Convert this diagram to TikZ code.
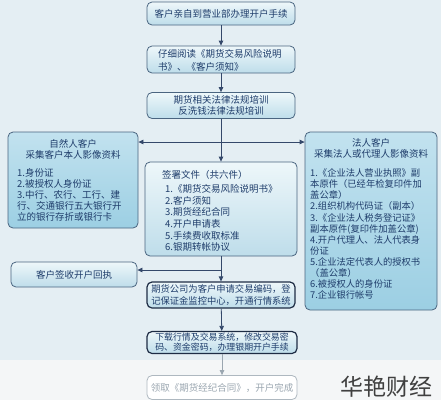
\documentclass[tikz,border=0pt]{standalone}
\usepackage{fontspec}
\setmainfont{Noto Sans CJK SC}
\usetikzlibrary{arrows.meta}
\definecolor{bgc}{HTML}{E4EEF3}
\definecolor{bgw}{HTML}{F4F6F7}
\definecolor{boxtop}{HTML}{EEF7FA}
\definecolor{boxbot}{HTML}{BEDDEA}
\definecolor{sidetop}{HTML}{C2E2EF}
\definecolor{sidebot}{HTML}{9CCFE3}
\definecolor{bordc}{HTML}{4A6580}
\definecolor{darkbord}{HTML}{1E2C44}
\definecolor{txtc}{HTML}{1F3D6B}
\definecolor{linec}{HTML}{34486A}
\definecolor{fadec}{HTML}{9AA6B0}
\begin{document}
\begin{tikzpicture}[x=1pt,y=-1pt,
  box/.style={draw=bordc, rounded corners=5pt, top color=boxtop, bottom color=boxbot, line width=0.8pt, inner sep=0pt},
  sidebox/.style={draw=bordc, rounded corners=5pt, top color=sidetop, bottom color=sidebot, line width=0.8pt, inner sep=0pt},
  strongbox/.style={box, draw=darkbord, line width=1.2pt},
  fadebox/.style={draw=fadec!80, rounded corners=5pt, fill=white, line width=0.8pt, inner sep=0pt},
  txt/.style={text=txtc, inner sep=0pt, font=\fontsize{9.5}{11}\selectfont},
  conn/.style={draw=linec, line width=0.8pt, -{Triangle[length=5pt,width=4.5pt]}},
  dconn/.style={draw=linec, line width=0.8pt, {Triangle[length=5pt,width=4.5pt]}-{Triangle[length=5pt,width=4.5pt]}},
  fconn/.style={draw=fadec, line width=0.8pt, -{Triangle[length=5pt,width=4.5pt]}},
]
\useasboundingbox (0,0) rectangle (441,400);
\fill[bgc] (0,0) rectangle (441,360);
\fill[bgw] (0,360) rectangle (441,400);

% main column
\node[box, minimum width=148pt, minimum height=23pt] (b1) at (221,13.5) {};
\node[txt] (t1) at (b1) {客户亲自到营业部办理开户手续};

\node[box, minimum width=148pt, minimum height=27pt] (b2) at (221,59.5) {};
\node[txt, anchor=north west, align=left, font=\fontsize{9.5}{13}\selectfont] (t2) at (158,49.5) {仔细阅读《期货交易风险说明\\书》、《客户须知》};

\node[box, minimum width=148pt, minimum height=26pt] (b3) at (221,105.5) {};
\node[txt, align=center] (t3) at (b3) {期货相关法律法规培训\\反洗钱法律法规培训};

% left side box
\node[sidebox, minimum width=130pt, minimum height=96pt] (L) at (73,180) {};
\node[txt, anchor=north, align=center, font=\fontsize{9.5}{10.5}\selectfont] (Lt) at (73,139.5) {自然人客户\\采集客户本人影像资料};
\node[txt, anchor=north west, align=left] (Ll) at (17,168.5) {1.身份证\\2.被授权人身份证\\3.中行、农行、工行、建\\行、交通银行五大银行开\\立的银行存折或银行卡};

% right side box
\node[sidebox, minimum width=132pt, minimum height=178pt] (R) at (371,221) {};
\node[txt, anchor=north, align=center, font=\fontsize{9.5}{10.5}\selectfont] (Rt) at (371,138.5) {法人客户\\采集法人或代理人影像资料};
\node[txt, anchor=north west, align=left, font=\fontsize{9.3}{11.1}\selectfont] (Rl) at (310,168.5) {1.《企业法人营业执照》副\\本原件（已经年检复印件加\\盖公章）\\2.组织机构代码证（副本）\\3.《企业法人税务登记证》\\副本原件(复印件加盖公章)\\4.开户代理人、法人代表身\\份证\\5.企业法定代表人的授权书\\（盖公章）\\6.被授权人的身份证\\7.企业银行帐号};

% signing documents
\node[box, minimum width=152pt, minimum height=94pt] (b4) at (221,209) {};
\node[txt, anchor=north west] (t4) at (162,170.5) {签署文件（共六件）};
\node[txt, anchor=north west, align=left, font=\fontsize{9.5}{11.6}\selectfont] (l4) at (165,184.5) {1.《期货交易风险说明书》\\2.客户须知\\3.期货经纪合同\\4.开户申请表\\5.手续费收取标准\\6.银期转帐协议};

% receipt
\node[box, minimum width=126pt, minimum height=25pt] (RC) at (74,274.5) {};
\node[txt] (tRC) at (RC) {客户签收开户回执};

\node[strongbox, minimum width=148pt, minimum height=26pt] (b5) at (221,295) {};
\node[txt, align=left, font=\fontsize{9.3}{12}\selectfont] (t5) at (b5) {期货公司为客户申请交易编码，登\\记保证金监控中心，开通行情系统};

\node[strongbox, minimum width=150pt, minimum height=22pt] (b6) at (222,342.5) {};
\node[txt, align=left, font=\fontsize{8.9}{10.3}\selectfont] (t6) at (b6) {下载行情及交易系统，修改交易密\\码、资金密码，办理银期开户手续};

\node[fadebox, minimum width=150pt, minimum height=24pt] (b7) at (222,387.5) {};
\node[txt, text=fadec] (t7) at (b7) {领取《期货经纪合同》，开户完成};

% watermark
\node[inner sep=0pt, text=black!75, font=\fontsize{23}{23}\selectfont] (wm) at (386,387) {华艳财经};

% connectors
\coordinate (j1) at (221,142);
\coordinate (j2) at (221,270);
\draw[conn] (b1) -- (b2);
\draw[conn] (b2) -- (b3);
\draw[conn] (b3) -- (b4);
\draw[dconn] (j1 -| L.east) -- (j1 -| R.west);
\draw[conn] (b4) -- (b5);
\draw[conn] (j2) -- (j2 -| RC.east);
\draw[conn] (b5) -- (b6);
\draw[fconn] (b6) -- (b7);
\end{tikzpicture}
\end{document}
